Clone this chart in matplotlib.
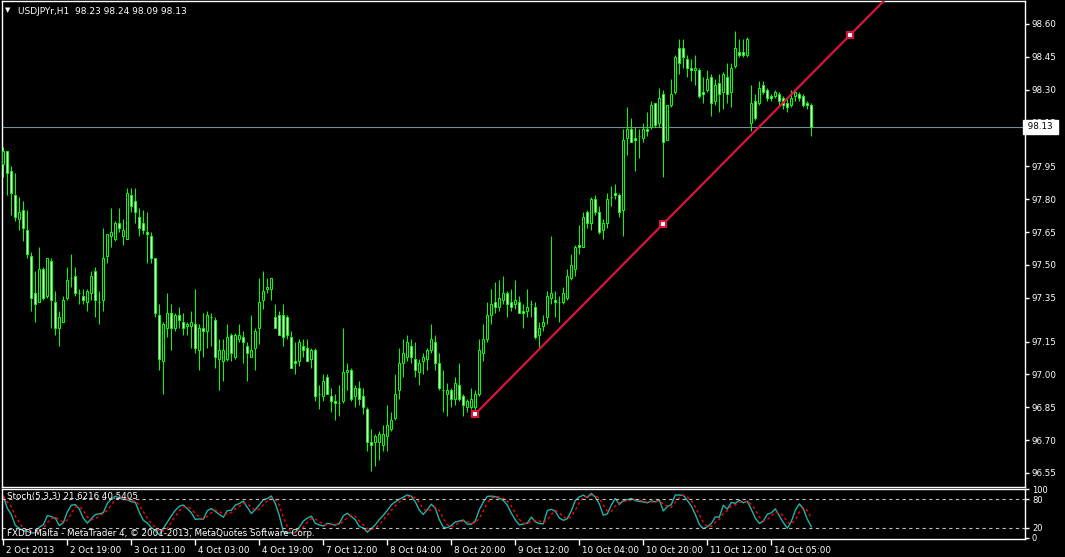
import numpy as np
import pandas as pd
import matplotlib
matplotlib.use('Agg')
from matplotlib import pyplot as plt
import matplotlib.transforms as mtransforms

plt.rcParams['font.family'] = ['DejaVu Sans']

symbol_title = 'USDJPYr,H1  98.23 98.24 98.09 98.13'
stoch_title = 'Stoch(5,3,3) 21.6216 40.5405'
copyright_text = 'FXDD Malta - MetaTrader 4, \u00a9 2001-2013, MetaQuotes Software Corp.'

# H1 bars (oldest first)
opens = [97.96, 98.02, 97.93, 97.82, 97.71, 97.75, 97.66, 97.54, 97.37, 97.33,
         97.48, 97.36, 97.52, 97.33, 97.21, 97.24, 97.35, 97.44, 97.45, 97.37,
         97.36, 97.33, 97.37, 97.47, 97.33, 97.34, 97.54, 97.63, 97.62, 97.69,
         97.63, 97.62, 97.82, 97.79, 97.72, 97.69, 97.65, 97.63, 97.53, 97.27,
         97.06, 97.21, 97.28, 97.21, 97.27, 97.24, 97.22, 97.22, 97.23, 97.11,
         97.21, 97.20, 97.26, 97.25, 97.07, 97.06, 97.07, 97.18, 97.08, 97.16,
         97.17, 97.13, 97.08, 97.12, 97.21, 97.34, 97.39, 97.39, 97.26, 97.27,
         97.27, 97.26, 97.17, 97.06, 97.06, 97.13, 97.12, 97.07, 97.11, 96.91,
         96.90, 96.99, 96.90, 96.88, 96.87, 96.88, 97.01, 97.02, 96.90, 96.94,
         96.90, 96.84, 96.69, 96.69, 96.69, 96.68, 96.72, 96.75, 96.80, 96.93,
         97.05, 97.08, 97.13, 97.07, 97.01, 97.06, 97.07, 97.11, 97.15, 97.05,
         96.93, 96.91, 96.93, 96.89, 96.95, 96.90, 96.85, 96.85, 96.85, 96.91,
         97.10, 97.16, 97.27, 97.33, 97.31, 97.34, 97.37, 97.33, 97.32, 97.33,
         97.29, 97.29, 97.32, 97.31, 97.18, 97.22, 97.26, 97.35, 97.34, 97.33,
         97.33, 97.35, 97.44, 97.48, 97.59, 97.58, 97.74, 97.69, 97.80, 97.74,
         97.66, 97.69, 97.81, 97.83, 97.82, 97.75, 98.08, 98.12, 98.08, 98.09,
         98.08, 98.12, 98.13, 98.24, 98.15, 98.28, 98.07, 98.23, 98.29, 98.49,
         98.49, 98.44, 98.40, 98.39, 98.39, 98.29, 98.30, 98.36, 98.25, 98.33,
         98.29, 98.36, 98.29, 98.41, 98.47, 98.47, 98.46, 98.15, 98.25, 98.24,
         98.32, 98.30, 98.27, 98.27, 98.28, 98.26, 98.24, 98.23, 98.27, 98.28,
         98.27, 98.24, 98.23]
highs = [98.04, 98.02, 97.95, 97.92, 97.81, 97.79, 97.75, 97.56, 97.47, 97.58,
         97.49, 97.53, 97.53, 97.38, 97.29, 97.36, 97.49, 97.55, 97.49, 97.39,
         97.39, 97.39, 97.47, 97.49, 97.38, 97.67, 97.64, 97.76, 97.70, 97.76,
         97.71, 97.85, 97.85, 97.85, 97.76, 97.75, 97.74, 97.65, 97.53, 97.32,
         97.24, 97.37, 97.32, 97.28, 97.31, 97.28, 97.24, 97.29, 97.39, 97.23,
         97.28, 97.29, 97.28, 97.26, 97.16, 97.16, 97.23, 97.19, 97.19, 97.23,
         97.20, 97.15, 97.27, 97.21, 97.44, 97.47, 97.44, 97.44, 97.32, 97.29,
         97.32, 97.27, 97.20, 97.15, 97.16, 97.16, 97.16, 97.12, 97.12, 96.95,
         97.00, 97.00, 96.94, 96.91, 96.95, 97.21, 97.05, 97.03, 96.95, 96.97,
         96.94, 96.85, 96.75, 96.73, 96.74, 96.77, 96.86, 96.83, 97.00, 97.12,
         97.16, 97.18, 97.16, 97.15, 97.07, 97.10, 97.12, 97.23, 97.18, 97.10,
         97.02, 96.96, 96.94, 96.99, 97.05, 96.91, 96.89, 96.94, 96.93, 97.16,
         97.23, 97.33, 97.39, 97.42, 97.43, 97.45, 97.38, 97.39, 97.43, 97.36,
         97.32, 97.39, 97.34, 97.33, 97.24, 97.27, 97.38, 97.63, 97.38, 97.36,
         97.40, 97.48, 97.55, 97.59, 97.68, 97.74, 97.75, 97.81, 97.82, 97.77,
         97.71, 97.83, 97.86, 97.87, 97.83, 98.12, 98.22, 98.17, 98.13, 98.12,
         98.15, 98.20, 98.25, 98.24, 98.31, 98.30, 98.23, 98.35, 98.46, 98.53,
         98.53, 98.46, 98.44, 98.46, 98.40, 98.36, 98.39, 98.37, 98.35, 98.37,
         98.38, 98.42, 98.42, 98.57, 98.53, 98.53, 98.54, 98.32, 98.28, 98.34,
         98.34, 98.31, 98.28, 98.30, 98.29, 98.27, 98.26, 98.30, 98.30, 98.29,
         98.28, 98.25, 98.24]
lows = [97.90, 97.82, 97.73, 97.70, 97.66, 97.61, 97.53, 97.29, 97.24, 97.33,
        97.34, 97.35, 97.21, 97.18, 97.13, 97.24, 97.34, 97.40, 97.36, 97.32,
        97.32, 97.29, 97.34, 97.26, 97.23, 97.29, 97.51, 97.58, 97.61, 97.65,
        97.59, 97.62, 97.74, 97.69, 97.63, 97.64, 97.51, 97.51, 97.26, 97.02,
        96.91, 97.17, 97.11, 97.20, 97.21, 97.18, 97.18, 97.12, 97.10, 97.02,
        97.08, 97.12, 97.13, 97.03, 96.93, 96.97, 97.06, 97.06, 97.07, 97.15,
        97.05, 96.97, 97.08, 97.02, 97.14, 97.30, 97.37, 97.34, 97.21, 97.18,
        97.13, 97.16, 97.03, 97.00, 97.04, 97.08, 97.06, 97.03, 96.88, 96.84,
        96.88, 96.91, 96.83, 96.79, 96.81, 96.87, 96.93, 96.88, 96.85, 96.86,
        96.82, 96.65, 96.56, 96.58, 96.61, 96.65, 96.65, 96.74, 96.79, 96.89,
        96.99, 97.06, 97.05, 96.99, 96.95, 97.00, 97.02, 97.10, 97.02, 96.93,
        96.83, 96.81, 96.85, 96.86, 96.88, 96.81, 96.83, 96.84, 96.83, 96.90,
        97.06, 97.15, 97.23, 97.28, 97.29, 97.32, 97.26, 97.29, 97.30, 97.28,
        97.21, 97.26, 97.26, 97.16, 97.12, 97.20, 97.23, 97.32, 97.26, 97.24,
        97.32, 97.34, 97.43, 97.45, 97.55, 97.58, 97.67, 97.66, 97.73, 97.64,
        97.62, 97.67, 97.77, 97.80, 97.72, 97.63, 98.00, 98.06, 97.93, 97.99,
        98.06, 98.09, 98.12, 98.13, 98.13, 97.90, 98.07, 98.22, 98.28, 98.37,
        98.40, 98.36, 98.34, 98.32, 98.26, 98.24, 98.29, 98.18, 98.23, 98.20,
        98.21, 98.24, 98.22, 98.40, 98.45, 98.45, 98.45, 98.11, 98.16, 98.23,
        98.28, 98.25, 98.25, 98.26, 98.23, 98.21, 98.20, 98.22, 98.25, 98.25,
        98.22, 98.21, 98.09]
closes = [98.02, 97.92, 97.83, 97.72, 97.74, 97.67, 97.55, 97.35, 97.32, 97.48,
          97.35, 97.53, 97.34, 97.21, 97.26, 97.34, 97.43, 97.44, 97.37, 97.37,
          97.34, 97.38, 97.45, 97.34, 97.33, 97.53, 97.64, 97.65, 97.69, 97.67,
          97.66, 97.83, 97.77, 97.74, 97.67, 97.66, 97.64, 97.53, 97.28, 97.07,
          97.23, 97.28, 97.21, 97.27, 97.25, 97.21, 97.23, 97.24, 97.12, 97.21,
          97.20, 97.27, 97.26, 97.08, 97.11, 97.11, 97.17, 97.10, 97.18, 97.18,
          97.15, 97.10, 97.11, 97.20, 97.33, 97.38, 97.40, 97.44, 97.21, 97.18,
          97.17, 97.18, 97.03, 97.05, 97.15, 97.11, 97.06, 97.11, 96.90, 96.91,
          96.97, 96.91, 96.88, 96.87, 96.87, 97.01, 97.02, 96.89, 96.94, 96.89,
          96.85, 96.69, 96.68, 96.72, 96.73, 96.73, 96.77, 96.79, 96.91, 97.05,
          97.10, 97.15, 97.08, 97.02, 97.05, 97.08, 97.11, 97.16, 97.05, 96.94,
          96.93, 96.93, 96.89, 96.96, 96.89, 96.86, 96.88, 96.89, 96.91, 97.11,
          97.16, 97.27, 97.32, 97.31, 97.35, 97.37, 97.32, 97.31, 97.34, 97.28,
          97.28, 97.31, 97.32, 97.17, 97.21, 97.24, 97.36, 97.37, 97.33, 97.33,
          97.37, 97.45, 97.50, 97.58, 97.58, 97.72, 97.69, 97.80, 97.74, 97.65,
          97.69, 97.80, 97.81, 97.82, 97.74, 98.07, 98.12, 98.06, 98.07, 98.09,
          98.12, 98.11, 98.23, 98.14, 98.26, 98.06, 98.23, 98.28, 98.45, 98.42,
          98.45, 98.40, 98.39, 98.40, 98.27, 98.28, 98.35, 98.24, 98.32, 98.28,
          98.37, 98.28, 98.40, 98.49, 98.46, 98.46, 98.53, 98.24, 98.17, 98.31,
          98.29, 98.26, 98.26, 98.29, 98.25, 98.23, 98.22, 98.26, 98.29, 98.26,
          98.23, 98.23, 98.13]

time_labels = ['2 Oct 2013', '2 Oct 19:00', '3 Oct 11:00', '4 Oct 03:00', '4 Oct 19:00',
               '7 Oct 12:00', '8 Oct 04:00', '8 Oct 20:00', '9 Oct 12:00', '10 Oct 04:00',
               '10 Oct 20:00', '11 Oct 12:00', '14 Oct 05:00']
label_step = 16

price_ticks = [98.60, 98.45, 98.30, 98.15, 97.95, 97.80, 97.65, 97.50, 97.35,
               97.15, 97.00, 96.85, 96.70, 96.55]
bid_price = 98.13

trend_bars = [118, 211.7]
trend_prices = [96.82, 98.55]

stoch_levels = [20, 80]
stoch_ticks = [0, 20, 80, 100]

W, H = 1065, 557
BULL = '#00ff00'
TREND = '#dc143c'

o = np.array(opens)
hi = np.array(highs)
lo = np.array(lows)
c = np.array(closes)
n = len(c)
xs = np.arange(n)

# stochastic 5,3,3
df = pd.DataFrame({'h': hi, 'l': lo, 'c': c})
hh = df['h'].rolling(5, min_periods=1).max()
ll = df['l'].rolling(5, min_periods=1).min()
num = (df['c'] - ll).rolling(3, min_periods=1).sum()
den = (hh - ll).rolling(3, min_periods=1).sum()
k_line = 100 * num / den
d_line = k_line.rolling(3, min_periods=1).mean()

fig = plt.figure(figsize=(W / 100, H / 100), dpi=100, facecolor='black')


def px_axes(left, top, right, bottom):
    return fig.add_axes([left / W, 1 - bottom / H, (right - left) / W, (bottom - top) / H])


ax = px_axes(2, 1, 1025, 487)
ax2 = px_axes(2, 489, 1025, 539)

x_left = -0.33
x_right = x_left + (1025 - 2) / 4.0

for a in (ax, ax2):
    a.set_facecolor('black')
    for s in a.spines.values():
        s.set_color('white')
        s.set_linewidth(1)
    a.set_xlim(x_left, x_right)

# candles: 1px wick, hollow 3px body (white inside = down bar)
ax.vlines(xs, lo, hi, color=BULL, lw=0.72, zorder=2)
body_lo = np.minimum(o, c)
body_h = np.abs(c - o)
fill = np.where(c < o, 'white', 'black')
ax.bar(xs, body_h, bottom=body_lo, width=0.5, color=fill, edgecolor=BULL,
       linewidth=0.72, zorder=3)

ax.set_ylim(96.486, 98.705)

# bid line + label
ax.axhline(bid_price, color='#7a8a9a', lw=0.8, zorder=1)

# trend line (ray to the right edge)
slope = (trend_prices[1] - trend_prices[0]) / (trend_bars[1] - trend_bars[0])
tx = np.array([trend_bars[0], x_right])
ax.plot(tx, trend_prices[0] + slope * (tx - trend_bars[0]), color=TREND, lw=1.6, zorder=4)
mid_bar = (trend_bars[0] + trend_bars[1]) / 2
mx = np.array([trend_bars[0], mid_bar, trend_bars[1]])
ax.plot(mx, trend_prices[0] + slope * (mx - trend_bars[0]), 's', ms=4.5, mfc='white',
        mec=TREND, mew=1.5, zorder=5)

ax.set_xticks([])
ax.yaxis.tick_right()
ax.set_yticks(price_ticks)
ax.set_yticklabels([f'{p:.2f}' for p in price_ticks])
ax.tick_params(axis='y', colors='white', length=3, width=1, labelsize=6.3, pad=2)

ax.text(1.0, bid_price, ' 98.13 ', transform=mtransforms.blended_transform_factory(ax.transAxes, ax.transData),
        fontsize=6.3, color='black', va='center', ha='left', zorder=10, clip_on=False,
        bbox=dict(boxstyle='square,pad=0.25', fc='white', ec='white'))

# stochastic panel
ax2.plot(xs, k_line, color='#20b2aa', lw=1)
ax2.plot(xs, d_line, color='red', lw=1, ls=(0, (2, 2)))
for lv in stoch_levels:
    ax2.axhline(lv, color='#c0c0c0', lw=0.8, ls=(0, (3, 3)))
ax2.set_ylim(-3, 101)
ax2.yaxis.tick_right()
ax2.set_yticks(stoch_ticks)
ax2.set_yticklabels([str(v) for v in stoch_ticks])
ax2.tick_params(axis='y', colors='white', length=3, width=1, labelsize=6, pad=2)

ax2.set_xticks(xs[::label_step][:len(time_labels)])
ax2.set_xticklabels(time_labels)
ax2.tick_params(axis='x', colors='white', length=4, width=1, labelsize=6.3, pad=1)
shift = mtransforms.ScaledTranslation(0.03, 0, fig.dpi_scale_trans)
for lbl in ax2.get_xticklabels():
    lbl.set_horizontalalignment('left')
    lbl.set_transform(lbl.get_transform() + shift)

fig.text(7 / W, 1 - 497 / H, stoch_title, color='white', fontsize=6.3, va='center')
fig.text(7 / W, 1 - 533 / H, copyright_text, color='white', fontsize=6.3, va='center')

fig.text(5 / W, 1 - 10 / H, '\u25bc', color='white', fontsize=5, va='center')
fig.text(18 / W, 1 - 11 / H, symbol_title, color='white', fontsize=6.5, va='center')

fig.savefig('out.png', dpi=100, facecolor='black')
